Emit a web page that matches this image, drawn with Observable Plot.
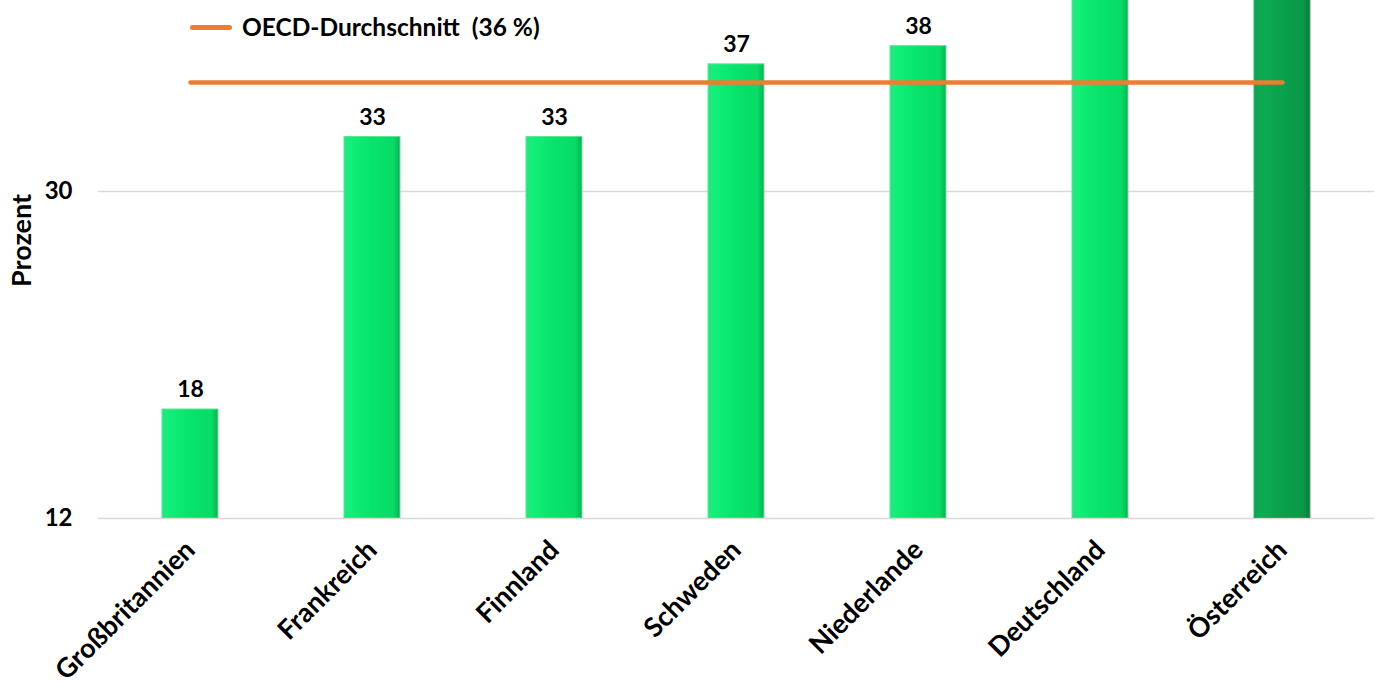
<!DOCTYPE html>
<html><head><meta charset="utf-8">
<script src="https://cdn.jsdelivr.net/npm/d3@7"></script>
<script src="https://cdn.jsdelivr.net/npm/@observablehq/plot@0.6"></script>
<style>
html,body{margin:0;padding:0;background:#fff;}
#wrap{position:relative;width:1378px;height:689px;overflow:hidden;font-family:Lato,"Open Sans",sans-serif;}
#legend{position:absolute;left:190px;top:11px;display:flex;align-items:center;font-weight:bold;font-size:24.5px;line-height:32px;color:#000;}
#legend .sw{display:inline-block;width:42px;height:5px;border-radius:3px;background:#ED7D31;margin-right:10px;margin-top:1px;}
</style></head>
<body><div id="wrap"><div id="chart"></div><div id="legend"><span class="sw"></span><span>OECD-Durchschnitt&nbsp;&nbsp;(36&nbsp;%)</span></div></div>
<script>
const countries = ["Großbritannien","Frankreich","Finnland","Schweden","Niederlande","Deutschland","Österreich"];
const values = [18, 33, 33, 37, 38, 41, 42];
const highlight = [false, false, false, false, false, false, true];
const oecdAverage = 36;
const yTicks = [12, 30];
const yMax = 40.513;

const data = countries.map((c, i) => ({country: c, value: values[i], hl: highlight[i]}));
const avgLine = countries.map(c => ({country: c, value: oecdAverage}));

const font = "Lato, 'Open Sans', sans-serif";
const chart = Plot.plot({
  width: 1378, height: 689,
  marginLeft: 98, marginRight: 4, marginTop: 0, marginBottom: 171,
  style: {fontFamily: font, fontWeight: "bold", fontSize: "22px", color: "#000", background: "#fff", overflow: "hidden"},
  x: {domain: countries, paddingInner: 0.69, paddingOuter: 0.345, label: null},
  y: {domain: [12, yMax], label: null},
  marks: [
    Plot.gridY(yTicks, {stroke: "#d9d9d9", strokeOpacity: 1, strokeWidth: 1.3}),
    Plot.barY(data, {x: "country", y1: () => 12, y2: "value", fill: d => d.hl ? "url(#gDark)" : "url(#gLight)", clip: true}),
    Plot.barY(data, {x: "country", y1: () => 12, y2: "value", fill: "none", stroke: d => d.hl ? "#3bb070" : "#5fe59a", strokeWidth: 1, clip: true}),
    Plot.text(data.filter(d => d.value < yMax - 2), {x: "country", y: "value", text: d => String(d.value), lineAnchor: "bottom", dy: -12, fontSize: 23, fontWeight: "bold", fill: "#000"}),
    Plot.lineY(avgLine, {x: "country", y: "value", stroke: "#ED7D31", strokeWidth: 4.5, strokeLinecap: "round"}),
    Plot.axisY(yTicks, {tickSize: 0, tickPadding: 26, fontSize: 24, fontWeight: "bold", label: null}),
    Plot.axisX({tickSize: 0, tickPadding: 27, tickRotate: -45, fontSize: 27, fontWeight: "bold", label: null}),
    Plot.text(["Prozent"], {frameAnchor: "left", textAnchor: "middle", lineAnchor: "middle", dx: -76, dy: -19, rotate: -90, fontSize: 27, fontWeight: "bold", fill: "#000"})
  ]
});

const ns = "http://www.w3.org/2000/svg";
const defs = document.createElementNS(ns, "defs");
defs.innerHTML = `
<linearGradient id="gLight" x1="0" x2="1" y1="0" y2="0">
  <stop offset="0" stop-color="#3ad884"/>
  <stop offset="0.1" stop-color="#12f07a"/>
  <stop offset="0.5" stop-color="#07e36a"/>
  <stop offset="0.88" stop-color="#06dc66"/>
  <stop offset="1" stop-color="#05b452"/>
</linearGradient>
<linearGradient id="gDark" x1="0" x2="1" y1="0" y2="0">
  <stop offset="0" stop-color="#1a9a55"/>
  <stop offset="0.1" stop-color="#0cac52"/>
  <stop offset="0.5" stop-color="#0aa14b"/>
  <stop offset="0.88" stop-color="#099a47"/>
  <stop offset="1" stop-color="#06793a"/>
</linearGradient>`;
chart.insertBefore(defs, chart.firstChild);
document.getElementById("chart").appendChild(chart);
</script></body></html>
